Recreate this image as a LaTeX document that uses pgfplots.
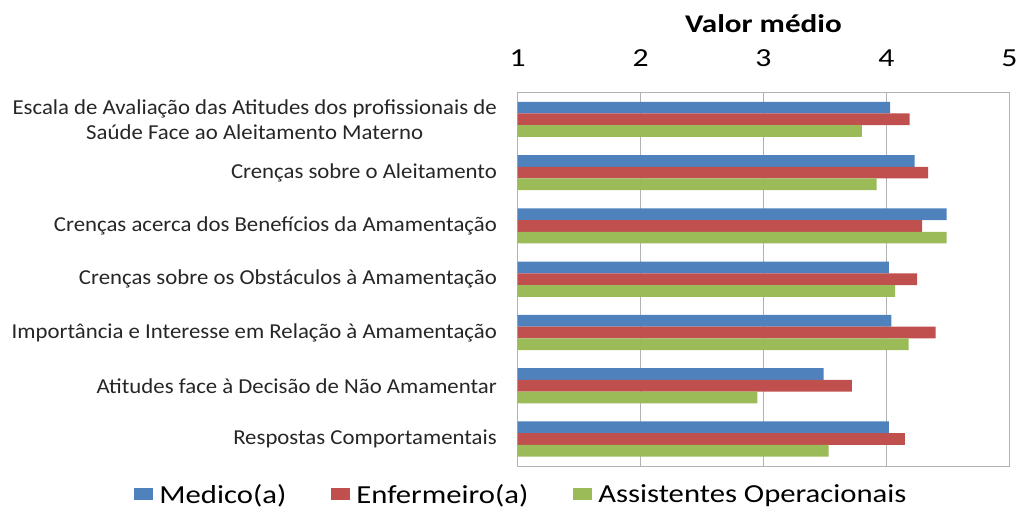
\documentclass[border=0pt]{standalone}
\usepackage{fontspec}
\setmainfont{Carlito}
\newfontfamily\lblfont[FakeStretch=1.07]{Carlito}
\newfontfamily\legfont[FakeStretch=1.18]{Carlito}
\newfontfamily\ttlfont[FakeStretch=1.22]{Carlito}
\usepackage{pgfplots}
\pgfplotsset{compat=1.18}
\definecolor{cblue}{HTML}{4F81BD}
\definecolor{cred}{HTML}{C0504D}
\definecolor{cgreen}{HTML}{9BBB59}
\begin{document}
\begin{tikzpicture}
\path[use as bounding box] (-517.7pt,-44.3pt) rectangle (501.3pt,465.7pt);
\begin{axis}[
  scale only axis,
  width=491.6pt, height=373pt,
  xbar, bar width=0.22,
  xmin=1, xmax=5, ymin=-0.5, ymax=6.5,
  y dir=reverse,
  xtick={1,2,3,4,5},
  ytick={0,1,2,3,4,5,6},
  yticklabels={{Escala de Avaliação das Atitudes dos profissionais de\\Saúde Face ao Aleitamento Materno},
    Crenças sobre o Aleitamento,
    Crenças acerca dos Benefícios da Amamentação,
    Crenças sobre os Obstáculos à Amamentação,
    Importância e Interesse em Relação à Amamentação,
    Atitudes face à Decisão de Não Amamentar,
    Respostas Comportamentais},
  yticklabel style={align=center, font=\lblfont\fontsize{21.3}{25}\selectfont, text=black!85, inner sep=0pt, xshift=-20.7pt},
  xticklabel pos=top,
  xticklabel style={inner sep=0pt, anchor=south, yshift=26pt, font=\ttlfont\fontsize{26}{26}\selectfont},
  /pgf/number format/assume math mode=true,
  xlabel={\textbf{Valor médio}},
  xlabel style={at={(axis description cs:0.5,1)}, anchor=base, yshift=60pt, inner sep=0pt, font=\ttlfont\fontsize{25.5}{26}\selectfont},
  major tick length=0pt,
  axis line style={gray!60},
  xmajorgrids, grid style={gray!60},
  legend style={at={(axis description cs:0.0077,-0.077)}, anchor=center, draw=none, legend columns=3,
    font=\legfont\fontsize{26}{26}\selectfont, nodes={inner sep=2pt},
    /tikz/every even column/.append style={column sep=43pt},
    /tikz/every odd column/.append style={column sep=4pt}},
  legend image code/.code={\fill[#1] (0pt,-6pt) rectangle (19pt,6pt);},
]
\addplot[fill=cblue, draw=none, bar shift=-0.22] coordinates {(4.03,0) (4.23,1) (4.49,2) (4.02,3) (4.04,4) (3.49,5) (4.02,6)};
\addplot[fill=cred, draw=none, bar shift=0] coordinates {(4.19,0) (4.34,1) (4.29,2) (4.25,3) (4.40,4) (3.72,5) (4.15,6)};
\addplot[fill=cgreen, draw=none, bar shift=0.22] coordinates {(3.80,0) (3.92,1) (4.49,2) (4.07,3) (4.18,4) (2.95,5) (3.53,6)};
\legend{Medico(a), Enfermeiro(a), Assistentes Operacionais}
\end{axis}
\end{tikzpicture}
\end{document}
